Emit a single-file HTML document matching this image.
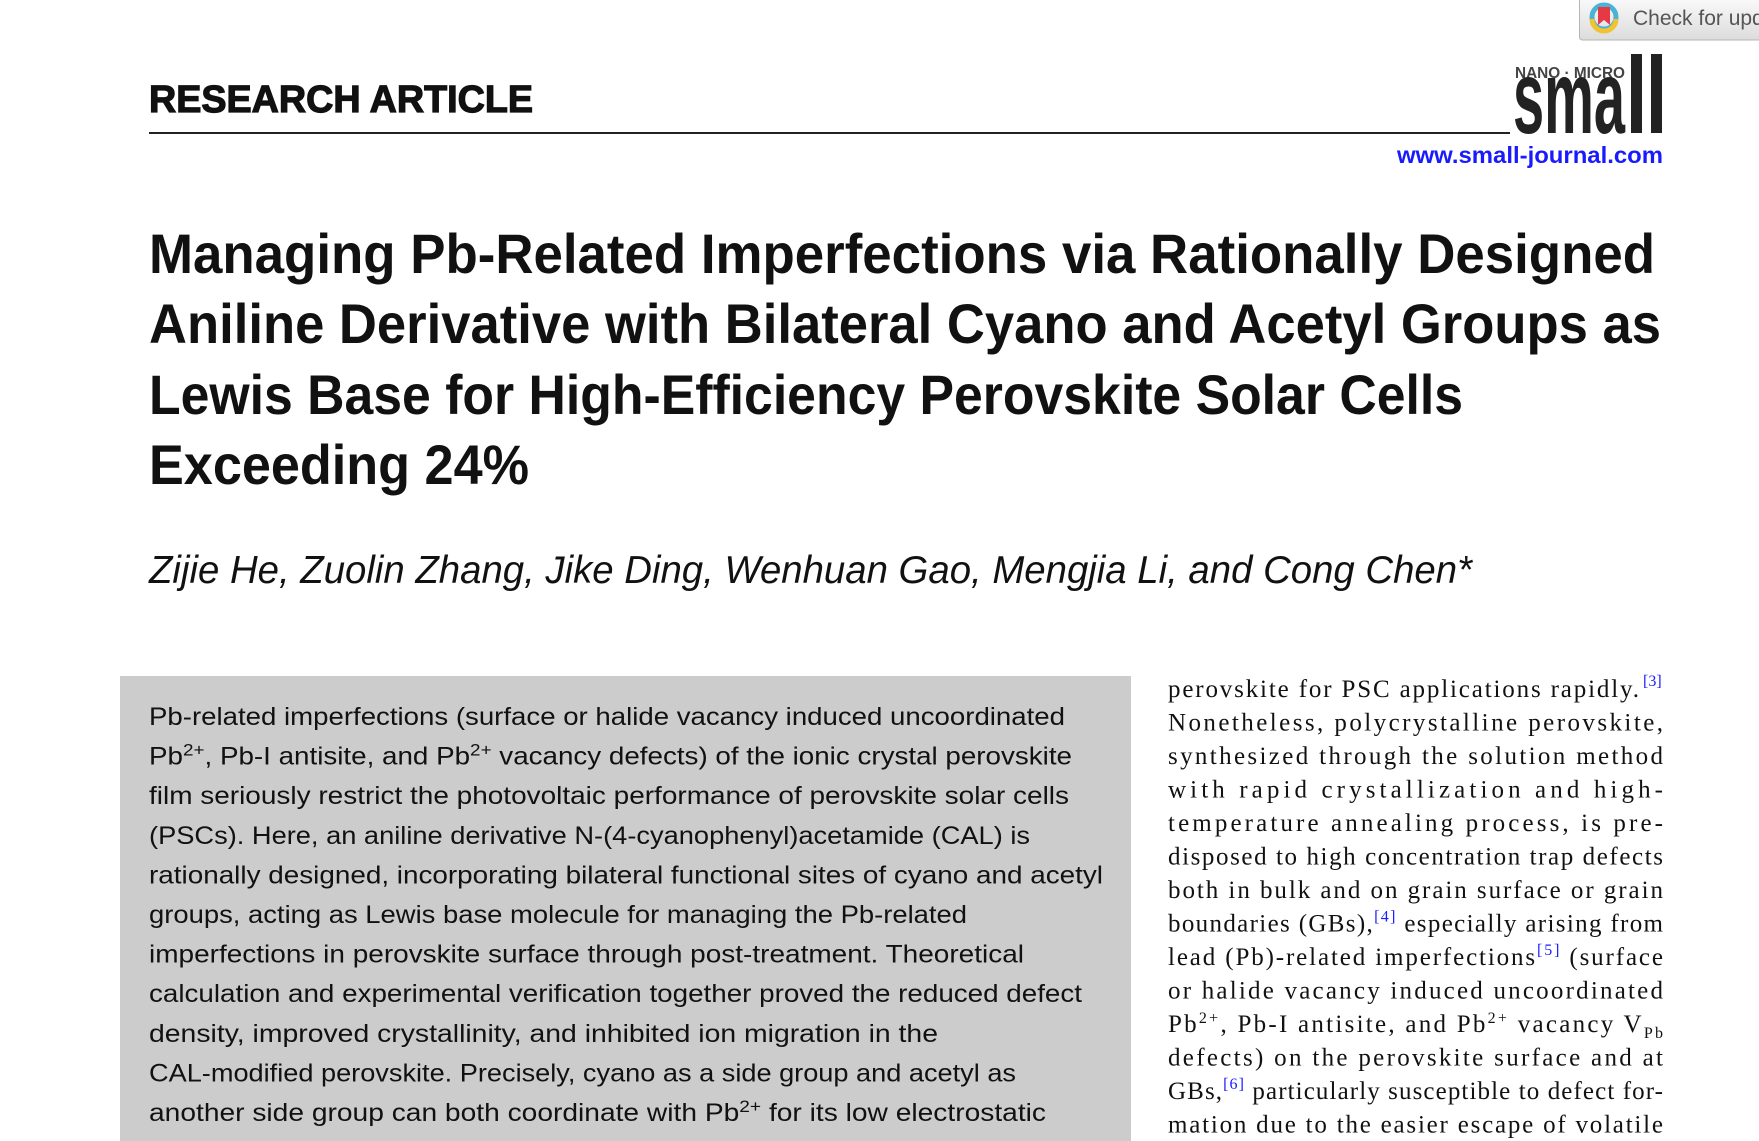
<!DOCTYPE html>
<html><head><meta charset="utf-8"><style>
html,body{margin:0;padding:0;background:#fff;}
svg{display:block;}
</style></head><body>
<svg width="1759" height="1141" viewBox="0 0 1759 1141" xmlns="http://www.w3.org/2000/svg">
<defs>
<linearGradient id="g" x1="0" y1="0" x2="0" y2="1"><stop offset="0" stop-color="#fafafa"/><stop offset="1" stop-color="#dcdcdc"/></linearGradient>
</defs>
<rect width="1759" height="1141" fill="#fff"/>
<rect x="1579.5" y="-2" width="190" height="42" rx="3" fill="url(#g)" stroke="#b5b5b5"/>
<circle cx="1604" cy="17" r="12" fill="none" stroke="#4ab3d6" stroke-width="5"/>
<path d="M1592 19 A12 12 0 0 0 1616 19" fill="none" stroke="#f2c230" stroke-width="5"/>
<path d="M1598 7 h12 v18 l-6 -5 l-6 5 z" fill="#e63946"/>
<text x="1633" y="25" font-family="Liberation Sans, sans-serif" font-size="21" fill="#555">Check for updates</text>
<text x="149" y="112" font-family="Liberation Sans, sans-serif" font-weight="bold" font-size="38" textLength="384" lengthAdjust="spacingAndGlyphs" fill="#111" stroke="#111" stroke-width="1.2">RESEARCH ARTICLE</text>
<line x1="149" y1="133" x2="1510" y2="133" stroke="#222" stroke-width="2"/>
<text x="1515" y="78" font-family="Liberation Sans, sans-serif" font-weight="bold" font-size="16" textLength="110" lengthAdjust="spacingAndGlyphs" fill="#444">NANO · MICRO</text>
<text x="1513" y="133" font-family="Liberation Sans, sans-serif" font-weight="bold" font-size="104" textLength="112" lengthAdjust="spacingAndGlyphs" fill="#222">sma</text>
<rect x="1631" y="54" width="11" height="79" fill="#222"/>
<rect x="1651" y="54" width="11" height="79" fill="#222"/>
<text x="1663" y="163" text-anchor="end" font-family="Liberation Sans, sans-serif" font-weight="bold" font-size="23" textLength="266" lengthAdjust="spacingAndGlyphs" fill="#1a1aff">www.small-journal.com</text>
<g font-family="Liberation Sans, sans-serif" font-weight="bold" font-size="56" fill="#111">
<text x="149" y="273" textLength="1506" lengthAdjust="spacingAndGlyphs">Managing Pb-Related Imperfections via Rationally Designed</text>
<text x="149" y="343" textLength="1512" lengthAdjust="spacingAndGlyphs">Aniline Derivative with Bilateral Cyano and Acetyl Groups as</text>
<text x="149" y="414" textLength="1314" lengthAdjust="spacingAndGlyphs">Lewis Base for High-Efficiency Perovskite Solar Cells</text>
<text x="149" y="484" textLength="380" lengthAdjust="spacingAndGlyphs">Exceeding 24%</text>
</g>
<text x="149" y="583" font-family="Liberation Sans, sans-serif" font-style="italic" font-size="39" textLength="1323" lengthAdjust="spacingAndGlyphs" fill="#111">Zijie He, Zuolin Zhang, Jike Ding, Wenhuan Gao, Mengjia Li, and Cong Chen*</text>
<rect x="120" y="676" width="1011" height="470" fill="#cccccc"/>
<g font-family="Liberation Sans, sans-serif" font-size="25" fill="#111">
<text x="149" y="725" textLength="916" lengthAdjust="spacingAndGlyphs">Pb-related imperfections (surface or halide vacancy induced uncoordinated</text>
<text x="149" y="764.6" textLength="923" lengthAdjust="spacingAndGlyphs">Pb<tspan dy="-9" font-size="17">2+</tspan><tspan dy="9">, Pb-I antisite, and Pb</tspan><tspan dy="-9" font-size="17">2+</tspan><tspan dy="9"> vacancy defects) of the ionic crystal perovskite</tspan></text>
<text x="149" y="804.2" textLength="920" lengthAdjust="spacingAndGlyphs">film seriously restrict the photovoltaic performance of perovskite solar cells</text>
<text x="149" y="843.8" textLength="881" lengthAdjust="spacingAndGlyphs">(PSCs). Here, an aniline derivative N-(4-cyanophenyl)acetamide (CAL) is</text>
<text x="149" y="883.4" textLength="954" lengthAdjust="spacingAndGlyphs">rationally designed, incorporating bilateral functional sites of cyano and acetyl</text>
<text x="149" y="923" textLength="818" lengthAdjust="spacingAndGlyphs">groups, acting as Lewis base molecule for managing the Pb-related</text>
<text x="149" y="962.6" textLength="875" lengthAdjust="spacingAndGlyphs">imperfections in perovskite surface through post-treatment. Theoretical</text>
<text x="149" y="1002.2" textLength="933" lengthAdjust="spacingAndGlyphs">calculation and experimental verification together proved the reduced defect</text>
<text x="149" y="1041.8" textLength="789" lengthAdjust="spacingAndGlyphs">density, improved crystallinity, and inhibited ion migration in the</text>
<text x="149" y="1081.4" textLength="867" lengthAdjust="spacingAndGlyphs">CAL-modified perovskite. Precisely, cyano as a side group and acetyl as</text>
<text x="149" y="1121" textLength="897" lengthAdjust="spacingAndGlyphs">another side group can both coordinate with Pb<tspan dy="-9" font-size="17">2+</tspan><tspan dy="9"> for its low electrostatic</tspan></text>
<text x="149" y="1160.6" textLength="914" lengthAdjust="spacingAndGlyphs">potential energy, and aniline group linked with the benzene ring provides</text>
</g>
<g font-family="Liberation Serif, serif" font-size="25" fill="#111">
<text x="1168" y="697" textLength="471" lengthAdjust="spacing">perovskite for PSC applications rapidly.</text>
<text x="1643" y="686" font-size="16" fill="#1a1aff">[3]</text>
<text x="1168" y="730.5" textLength="495" lengthAdjust="spacing">Nonetheless, polycrystalline perovskite,</text>
<text x="1168" y="764" textLength="495" lengthAdjust="spacing">synthesized through the solution method</text>
<text x="1168" y="797.5" textLength="495" lengthAdjust="spacing">with rapid crystallization and high-</text>
<text x="1168" y="831" textLength="495" lengthAdjust="spacing">temperature annealing process, is pre-</text>
<text x="1168" y="864.5" textLength="495" lengthAdjust="spacing">disposed to high concentration trap defects</text>
<text x="1168" y="898" textLength="495" lengthAdjust="spacing">both in bulk and on grain surface or grain</text>
<text x="1168" y="931.5" textLength="495" lengthAdjust="spacing">boundaries (GBs),<tspan dy="-10" font-size="16" fill="#1a1aff">[4]</tspan><tspan dy="10"> especially arising from</tspan></text>
<text x="1168" y="965" textLength="495" lengthAdjust="spacing">lead (Pb)-related imperfections<tspan dy="-10" font-size="16" fill="#1a1aff">[5]</tspan><tspan dy="10"> (surface</tspan></text>
<text x="1168" y="998.5" textLength="495" lengthAdjust="spacing">or halide vacancy induced uncoordinated</text>
<text x="1168" y="1032" textLength="495" lengthAdjust="spacing">Pb<tspan dy="-9" font-size="16">2+</tspan><tspan dy="9">, Pb-I antisite, and Pb</tspan><tspan dy="-9" font-size="16">2+</tspan><tspan dy="9"> vacancy V</tspan><tspan dy="6" font-size="16">Pb</tspan></text>
<text x="1168" y="1065.5" textLength="495" lengthAdjust="spacing">defects) on the perovskite surface and at</text>
<text x="1168" y="1099" textLength="495" lengthAdjust="spacing">GBs,<tspan dy="-10" font-size="16" fill="#1a1aff">[6]</tspan><tspan dy="10"> particularly susceptible to defect for-</tspan></text>
<text x="1168" y="1132.5" textLength="495" lengthAdjust="spacing">mation due to the easier escape of volatile</text>
</g>
</svg>
</body></html>
